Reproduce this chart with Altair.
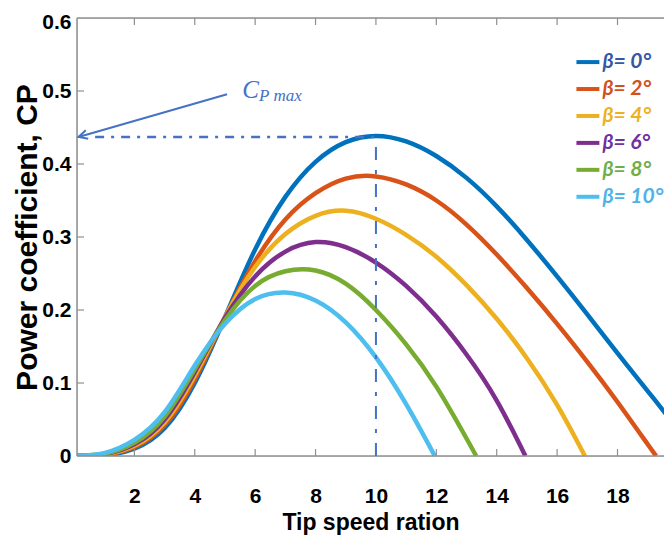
import altair as alt
import pandas as pd

# ---------------- data ----------------
beta_labels = ["β= 0°", "β= 2°", "β= 4°", "β= 6°", "β= 8°", "β= 10°"]
line_colors = ["#0072BD", "#D95319", "#EDB120", "#7E2F8E", "#77AC30", "#4DBEEE"]
label_colors = ["#3457A6", "#D2501C", "#EDB120", "#7030A0", "#70AD47", "#4DB3E6"]

lam_b0 = [0, 1, 2, 3, 4, 5, 6, 7, 8, 9, 10, 11, 12, 13, 14, 15, 16, 17, 18, 19, 20, 20.7]
cp_b0 = [0, 0.001, 0.010, 0.038, 0.100, 0.190, 0.283, 0.355, 0.403, 0.430, 0.4385, 0.431, 0.411, 0.381, 0.342,
         0.296, 0.246, 0.194, 0.141, 0.089, 0.037, 0.0]

lam_b2 = [0, 1, 2, 3, 4, 5, 6, 7, 8, 9, 10, 11, 12, 13, 14, 15, 16, 17, 18, 19, 19.28]
cp_b2 = [0, 0.0015, 0.012, 0.042, 0.105, 0.190, 0.267, 0.324, 0.360, 0.380, 0.383, 0.372, 0.350, 0.317, 0.276,
         0.230, 0.181, 0.129, 0.074, 0.016, 0.0]

lam_b4 = [0, 1, 2, 3, 4, 5, 6, 7, 8, 9, 10, 11, 12, 13, 14, 15, 16, 16.92]
cp_b4 = [0, 0.002, 0.014, 0.046, 0.110, 0.190, 0.259, 0.304, 0.329, 0.336, 0.325, 0.303, 0.273, 0.234, 0.188,
         0.134, 0.070, 0.0]

lam_b6 = [0, 1, 2, 3, 4, 5, 6, 7, 8, 9, 10, 11, 12, 13, 14, 14.95]
cp_b6 = [0, 0.0025, 0.016, 0.050, 0.115, 0.189, 0.246, 0.280, 0.293, 0.286, 0.265, 0.233, 0.191, 0.139, 0.076, 0.0]

lam_b8 = [0, 1, 2, 3, 4, 5, 6, 7, 8, 9, 10, 11, 12, 13, 13.32]
cp_b8 = [0, 0.003, 0.018, 0.054, 0.119, 0.186, 0.233, 0.253, 0.254, 0.236, 0.200, 0.153, 0.095, 0.024, 0.0]

lam_b10 = [0, 1, 2, 3, 4, 5, 6, 7, 8, 9, 10, 11, 11.95]
cp_b10 = [0, 0.004, 0.022, 0.060, 0.124, 0.181, 0.215, 0.224, 0.213, 0.183, 0.135, 0.071, 0.0]

x_tick_values = [2, 4, 6, 8, 10, 12, 14, 16, 18]
y_tick_values = [0, 0.1, 0.2, 0.3, 0.4, 0.5, 0.6]
inner_y_ticks = [0.1, 0.2, 0.3, 0.4, 0.5]

cp_max = 0.437
lam_at_max = 10
annot_text_main = "C"
annot_text_sub = "P max"

# ---------------- tables ----------------
lams = [lam_b0, lam_b2, lam_b4, lam_b6, lam_b8, lam_b10]
cps = [cp_b0, cp_b2, cp_b4, cp_b6, cp_b8, cp_b10]
rows = []
for k, (name, xs, ys) in enumerate(zip(beta_labels, lams, cps)):
    for x, y in zip(xs, ys):
        rows.append({"beta": name, "order": k, "lam": x, "cp": y})
df = pd.DataFrame(rows)

W, H = 587, 438
ANN = "#4472C4"
AXC = "#8f8f8f"

xscale = alt.Scale(domain=[0.1, 19.54], nice=False, zero=False)
yscale = alt.Scale(domain=[0, 0.6], nice=False)

x_axis = alt.Axis(values=x_tick_values, title="Tip speed ration", domain=False, ticks=False, tickSize=0,
                  grid=False, labelFont="Liberation Sans", labelFontWeight="bold", labelFontSize=21,
                  labelColor="black", labelPadding=29, titleFont="Liberation Sans",
                  titleFontWeight="bold", titleFontSize=23, titleColor="black", titleY=66,
                  titleX=W / 2, titleAlign="center", titleBaseline="middle")
y_axis = alt.Axis(values=y_tick_values, title="Power coefficient, CP", domain=False, ticks=False, tickSize=0,
                  grid=False, labelFont="Liberation Sans", labelFontWeight="bold", labelFontSize=21,
                  labelColor="black", labelPadding=6,
                  labelOffset={"condition": {"test": "datum.value >= 0.59", "value": 4}, "value": 0},
                  labelExpr="datum.value == 0 ? '0' : format(datum.value, '.1f')",
                  titleFont="Liberation Sans", titleFontWeight="bold", titleFontSize=30, titleColor="black",
                  titleX=-50, titleY=H / 2, titleAngle=270, titleAlign="center", titleBaseline="middle")


def X(field):
    return alt.X(field, scale=xscale, axis=x_axis)


def Y(field):
    return alt.Y(field, scale=yscale, axis=y_axis)


lines = alt.Chart(df).mark_line(strokeWidth=4.5, interpolate="natural", clip=True).encode(
    x=X("lam:Q"),
    y=Y("cp:Q"),
    color=alt.Color("beta:N", scale=alt.Scale(domain=beta_labels, range=line_colors), legend=None),
    order=alt.Order("order:Q"),
)

# frame (left, top, bottom) and inward ticks
frame_style = dict(color=AXC, strokeWidth=1.5)
left_border = alt.Chart().mark_rule(**frame_style).encode(x=alt.value(0), y=alt.value(0), y2=alt.value(H))
top_border = alt.Chart().mark_rule(**frame_style).encode(x=alt.value(0), x2=alt.value(W), y=alt.value(0))
bottom_border = alt.Chart().mark_rule(**frame_style).encode(x=alt.value(0), x2=alt.value(W), y=alt.value(H))

xt = pd.DataFrame({"t": x_tick_values})
yt = pd.DataFrame({"t": inner_y_ticks})
tick_style = dict(color=AXC, strokeWidth=1.2)
bt = alt.Chart(xt).mark_rule(**tick_style).encode(x=X("t:Q"), y=alt.value(H), y2=alt.value(H - 7))
tt = alt.Chart(xt).mark_rule(**tick_style).encode(x=X("t:Q"), y=alt.value(0), y2=alt.value(7))
lt = alt.Chart(yt).mark_rule(**tick_style).encode(y=Y("t:Q"), x=alt.value(0), x2=alt.value(7))

# Cp max reference lines
hline = alt.Chart(pd.DataFrame({"x": [0.7], "x2": [lam_at_max], "y": [cp_max]})).mark_rule(
    color=ANN, strokeWidth=2.6, strokeDash=[9, 7, 3, 7]).encode(x=X("x:Q"), x2="x2:Q", y=Y("y:Q"))
vline = alt.Chart(pd.DataFrame({"x": [lam_at_max], "y": [0], "y2": [cp_max]})).mark_rule(
    color=ANN, strokeWidth=2, strokeDash=[13, 10, 4, 10]).encode(x=X("x:Q"), y=Y("y:Q"), y2="y2:Q")

# arrow
arrow_df = pd.DataFrame({"x": [5.07], "y": [0.4955], "x2": [0.15], "y2": [cp_max]})
shaft = alt.Chart(arrow_df).mark_rule(color=ANN, strokeWidth=2).encode(
    x=X("x:Q"), y=Y("y:Q"), x2="x2:Q", y2="y2:Q")
head = alt.Chart(arrow_df).mark_point(shape="M-0.7,1.4L0,0L0.7,1.4", filled=False, size=160, angle=254,
                                      color=ANN, strokeWidth=2, opacity=1).encode(x=X("x2:Q"), y=Y("y2:Q"))

c_txt = alt.Chart(pd.DataFrame({"x": [5.57], "y": [0.4904], "t": [annot_text_main]})).mark_text(
    font="Liberation Serif", fontStyle="italic", fontSize=25, color=ANN, align="left",
    baseline="alphabetic").encode(x=X("x:Q"), y=Y("y:Q"), text="t:N")
sub_txt = alt.Chart(pd.DataFrame({"x": [6.13], "y": [0.4863], "t": [annot_text_sub]})).mark_text(
    font="Liberation Serif", fontStyle="italic", fontSize=17, color=ANN, align="left",
    baseline="alphabetic").encode(x=X("x:Q"), y=Y("y:Q"), text="t:N")

# legend (drawn as a small layer)
leg = pd.DataFrame({"beta": beta_labels, "i": list(range(len(beta_labels)))})
leg_base = alt.Chart(leg).transform_calculate(
    ly="0.5396 - datum.i * 0.0369", lx0="16.64", lx1="17.40", tx="17.50")
leg_lines = leg_base.mark_rule(strokeWidth=4).encode(
    x=X("lx0:Q"), x2="lx1:Q", y=Y("ly:Q"),
    color=alt.Color("beta:N", scale=alt.Scale(domain=beta_labels, range=line_colors), legend=None))
leg_text = leg_base.mark_text(font="Lato", fontStyle="italic", fontWeight="bold", fontSize=21,
                              align="left", baseline="middle").encode(
    x=X("tx:Q"), y=Y("ly:Q"), text="beta:N",
    fill=alt.Fill("beta:N", scale=alt.Scale(domain=beta_labels, range=label_colors), legend=None))

chart = alt.layer(
    lines, left_border, top_border, bottom_border, bt, tt, lt, hline, vline, shaft, head, c_txt, sub_txt,
    leg_lines, leg_text
).properties(
    width=W, height=H,
    padding={"left": 69, "top": 10, "right": 0, "bottom": 82},
    autosize=alt.AutoSizeParams(type="none"),
).resolve_scale(color="independent").configure_view(
    stroke=None
).configure(background="white")

chart.save("out.html", embed_options={"renderer": "svg", "actions": False})
